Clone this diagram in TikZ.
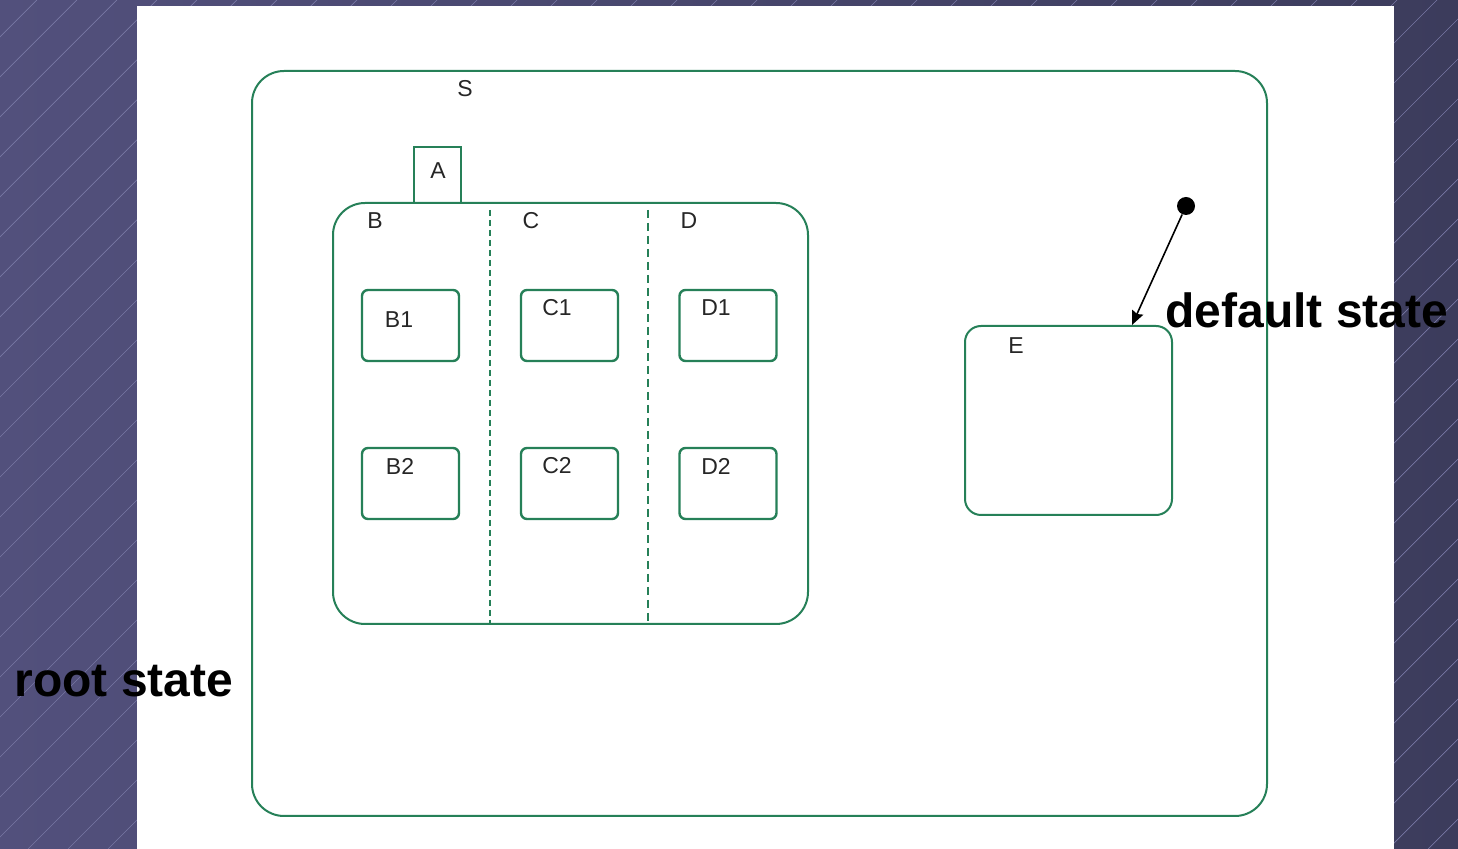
\documentclass[tikz,border=0pt]{standalone}
\usepackage{fontspec}
\setmainfont{Liberation Sans}
\usetikzlibrary{positioning,arrows.meta}
\definecolor{stategreen}{RGB}{38,128,88}
\definecolor{slateleft}{RGB}{82,80,124}
\definecolor{slateright}{RGB}{60,60,92}
\definecolor{hatchline}{RGB}{120,120,164}
\tikzset{
  region/.style={draw=stategreen, line width=1pt, rounded corners=16pt, inner sep=0pt},
  substate/.style={draw=stategreen, line width=1.2pt, rounded corners=3pt, inner sep=0pt, minimum width=48.5pt, minimum height=35.5pt},
  tabbox/.style={draw=stategreen, line width=1.1pt, inner sep=0pt, minimum width=23.5pt, minimum height=28pt},
  divider/.style={draw=stategreen, dash pattern=on 3pt off 2pt},
  lbl/.style={font=\fontsize{11.5}{13}\selectfont, text=black!85, inner sep=0pt},
  callout/.style={font=\fontsize{24}{28}\selectfont\bfseries, inner sep=0pt, anchor=base west},
  initdot/.style={circle, fill=black, inner sep=0pt, minimum size=9pt},
  initarrow/.style={-{Stealth[length=7pt, width=6pt, inset=1pt]}, line width=0.8pt}
}

\begin{document}
\begin{tikzpicture}[x=0.5pt, y=-0.5pt]
  \useasboundingbox (0,0) rectangle (1458,849);
  % slide background with hatching
  \shade[left color=slateleft, right color=slateright] (0,0) rectangle (1458,849);
  \begin{scope}
    \clip (0,0) rectangle (1458,849);
    \foreach \x in {-3,37,...,2320}
      \draw[hatchline, line width=0.35pt] (\x-849,849) -- (\x,0);
  \end{scope}
  \fill[white] (137,6) rectangle (1394,849);

  % root state S
  \node[region, minimum width=507.5pt, minimum height=372.5pt] (S) at (759.5,443.5) {};
  \node[lbl] (Slbl) at (465,89) {S};

  % A with the concurrent regions B, C, D
  \node[tabbox] (A) at (437.5,175) {};
  \node[lbl] (Albl) at (438,171) {A};
  \node[region, minimum width=237.5pt, minimum height=210.5pt] (BCD) at (570.5,413.5) {};
  \draw[divider, line width=1.2pt] (490,210) -- (490,624);
  \draw[divider, line width=0.7pt, dash pattern=on 4pt off 2.5pt] (648,210) -- (648,624);
  \node[lbl] (Blbl) at (375,221) {B};
  \node[lbl] (Clbl) at (531,221) {C};
  \node[lbl] (Dlbl) at (689,221) {D};

  \node[substate] (B1) at (410.5,325.5) {};
  \node[substate] (C1) at (569.5,325.5) {};
  \node[substate] (D1) at (728,325.5) {};
  \node[substate] (B2) at (410.5,483.5) {};
  \node[substate] (C2) at (569.5,483.5) {};
  \node[substate] (D2) at (728,483.5) {};
  \node[lbl] (B1lbl) at (399,320) {B1};
  \node[lbl] (C1lbl) at (557,308) {C1};
  \node[lbl] (D1lbl) at (716,308) {D1};
  \node[lbl] (B2lbl) at (400,466) {B2};
  \node[lbl] (C2lbl) at (557,466) {C2};
  \node[lbl] (D2lbl) at (716,466) {D2};

  % state E and its default transition
  \node[region, rounded corners=8pt, minimum width=103.5pt, minimum height=94.5pt] (E) at (1068.5,420.5) {};
  \node[lbl] (Elbl) at (1016,346) {E};
  \node[initdot] (init) at (1186,206) {};
  \draw[initarrow] (init) -- ([xshift=-20.5pt]E.north east);

  % callouts
  \node[callout] (rootlbl) at (14,697) {root state};
  \node[callout] (defaultlbl) at (1165,328) {default state};
\end{tikzpicture}
\end{document}
